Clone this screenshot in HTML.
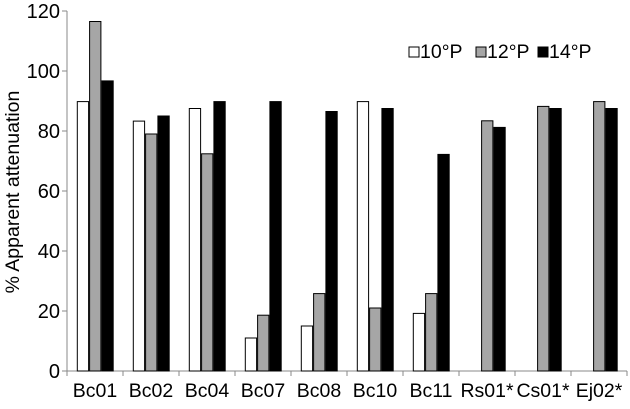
<!DOCTYPE html>
<html><head><meta charset="utf-8"><style>
body{margin:0;background:#fff;}
svg text{font-family:"Liberation Sans",Arial,sans-serif;fill:#000;}
</style></head><body>
<svg width="630" height="404" viewBox="0 0 630 404">
<g id="axes"></g><g id="bars"></g><g id="legend"></g>
</svg>
<script>
const categories=["Bc01","Bc02","Bc04","Bc07","Bc08","Bc10","Bc11","Rs01*","Cs01*","Ej02*"];
const series10=[89.8,83.3,87.5,11,15,89.8,19.2,null,null,null];
const series12=[116.5,79,72.4,18.6,25.8,21,25.8,83.4,88.2,89.8];
const series14=[96.7,85,89.8,89.8,86.5,87.5,72.2,81.2,87.5,87.5];
const yTicks=[0,20,40,60,80,100,120];
const seriesNames=["10°P","12°P","14°P"];
const NS="http://www.w3.org/2000/svg";
const X0=67,Y0=371,PPU=3,STEP=56,BW=12.3,OFF=9.8;
const y=v=>Y0-v*PPU;
const xCat=i=>X0+i*STEP;
function mk(tag,attrs,parent,text){const e=document.createElementNS(NS,tag);for(const k in attrs)e.setAttribute(k,attrs[k]);if(text!==undefined)e.textContent=text;parent.appendChild(e);return e;}
const axes=document.getElementById('axes'),bars=document.getElementById('bars'),legend=document.getElementById('legend');
let l=mk('line',{x1:X0,y1:y(120),x2:X0,y2:Y0,stroke:'#888','stroke-width':1},axes);


l=mk('line',{x1:X0,y1:Y0,x2:xCat(categories.length),y2:Y0,stroke:'#888','stroke-width':1},axes);


yTicks.forEach(t=>{
 let tk=mk('line',{x1:X0-5,y1:y(t),x2:X0,y2:y(t),stroke:'#888'},axes);
 
 
 let tx=mk('text',{x:X0-7,y:y(t)+7,'text-anchor':'end','font-size':20},axes,String(t));
 
 
});
for(let i=0;i<=categories.length;i++){
 let tk=mk('line',{x1:xCat(i),y1:Y0,x2:xCat(i),y2:Y0+5,stroke:'#888'},axes);
 
 
}
categories.forEach((c,i)=>{
 let tx=mk('text',{x:xCat(i)+STEP/2,y:397,'text-anchor':'middle','font-size':19.5},axes,c);
 
 
});
let yt=mk('text',{x:0,y:0,transform:'translate(19,192) rotate(-90)','text-anchor':'middle','font-size':19.5},axes,'% Apparent attenuation');


const allSeries=[series10,series12,series14];
const fills=['#fff','#a6a6a6','#000'];
allSeries.forEach((s,si)=>{
 s.forEach((v,i)=>{
  if(v===null)return;
  let r=mk('rect',{x:xCat(i)+OFF+si*BW+0.5,y:y(v),width:BW-1,height:v*PPU,fill:fills[si],stroke:'#000','stroke-width':1},bars);
  
  
 });
});
const lx=[420,487,549];
seriesNames.forEach((n,si)=>{
 let sw=mk('rect',{x:lx[si]-11,y:47,width:10,height:10,fill:fills[si],stroke:'#000','stroke-width':1},legend);
 
 
 let tx=mk('text',{x:lx[si],y:58,'font-size':19.5},legend,n);
 
 
});
</script>
</body></html>
